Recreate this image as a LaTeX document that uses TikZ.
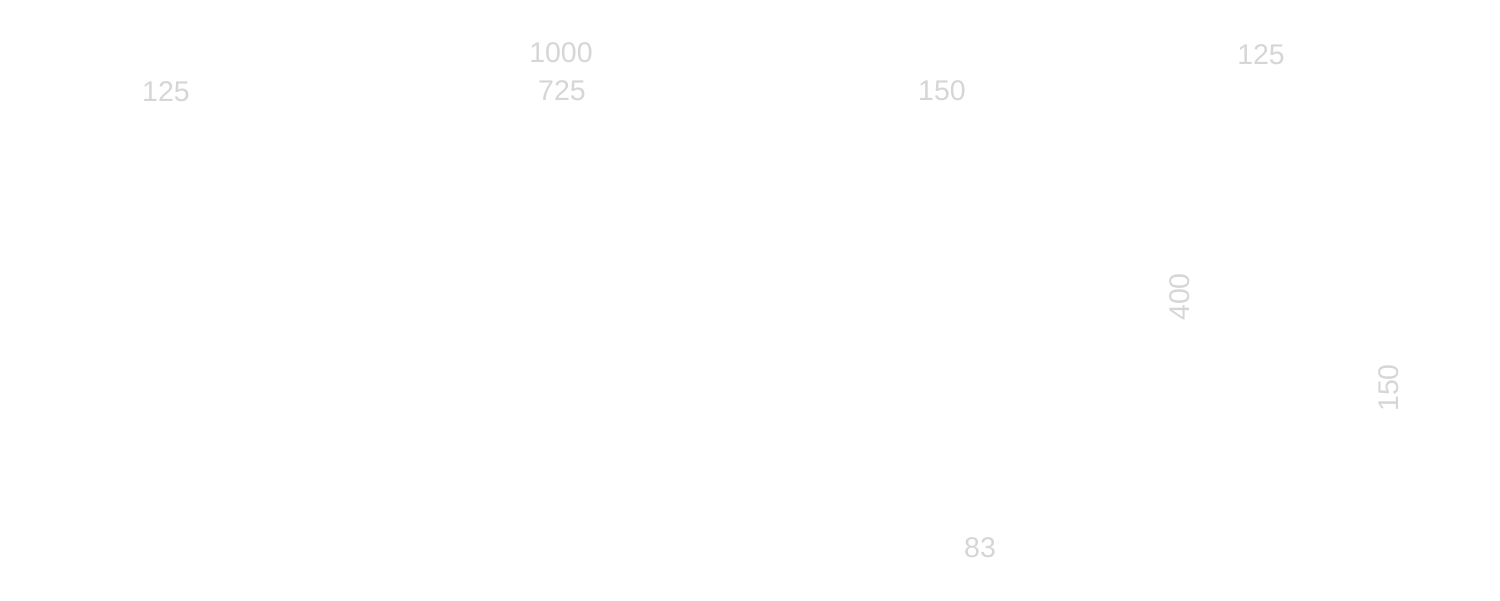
\documentclass[tikz,border=0pt]{standalone}
\usepackage{fontspec}
\setmainfont{Liberation Sans}
\definecolor{dimgray}{HTML}{D6D6D6}
\begin{document}
\begin{tikzpicture}[x=0.01cm,y=-0.01cm,
  dimlabel/.style={text=dimgray,font=\fontsize{8.1pt}{9pt}\selectfont,inner sep=0pt,anchor=center}]
\useasboundingbox (0,0) rectangle (1500,600);
\fill[white] (0,0) rectangle (1500,600);
\node[dimlabel] (a) at (166,92) {125};
\node[dimlabel] (b) at (561,53) {1000};
\node[dimlabel] (c) at (562,91) {725};
\node[dimlabel] (d) at (942,91) {150};
\node[dimlabel] (e) at (1261,55) {125};
\node[dimlabel,rotate=90] (f) at (1180,297) {400};
\node[dimlabel,rotate=90] (g) at (1389,388) {150};
\node[dimlabel] (h) at (980,548) {83};
\end{tikzpicture}
\end{document}
